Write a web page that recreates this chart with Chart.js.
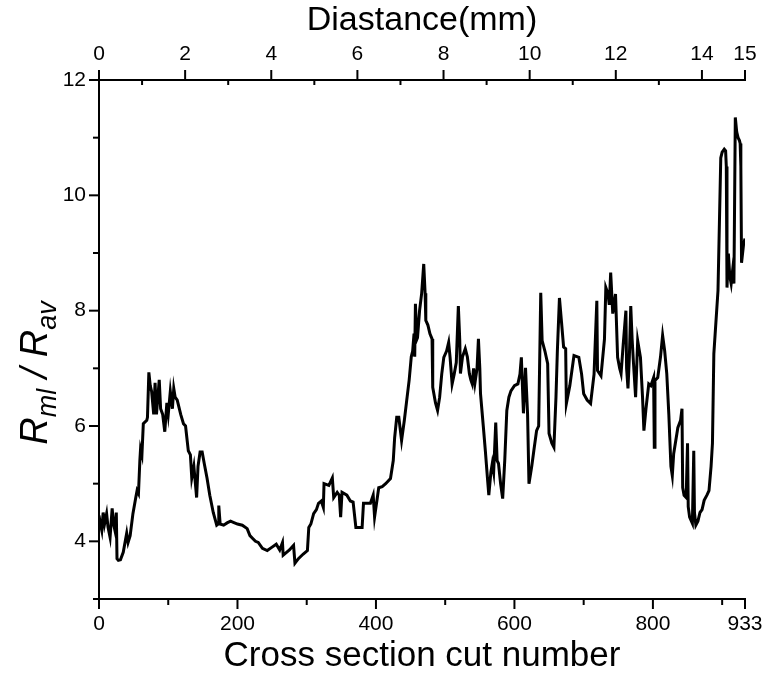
<!DOCTYPE html>
<html>
<head>
<meta charset="utf-8">
<script src="https://cdn.jsdelivr.net/npm/chart.js@4/dist/chart.umd.min.js"></script>
<style>
  html, body { margin: 0; padding: 0; background: #fff; }
  #wrap { width: 768px; height: 677px; }
</style>
</head>
<body>
<div id="wrap"><canvas id="chart" width="768" height="677"></canvas></div>
<script>
// cut number along the sample
const cutNumber = [
  0, 2, 4, 6, 8, 11, 13, 16, 19, 21, 23, 25, 26, 28, 31, 35, 40, 42, 45, 49,
  53, 55, 57, 59, 60, 62, 64, 69, 70, 72, 74, 76, 79, 81, 83, 85, 87, 89, 92, 95,
  98, 100, 103, 106, 108, 110, 113, 118, 122, 125, 129, 132, 134, 137, 141, 143, 146, 149, 152, 156,
  160, 165, 170, 172, 173, 175, 180, 185, 190, 194, 200, 207, 214, 218, 222, 226, 230, 236, 243, 250,
  256, 261, 265, 266, 270, 275, 281, 283, 288, 295, 301, 303, 306, 310, 314, 317, 321, 324, 325, 332,
  337, 339, 344, 347, 349, 351, 358, 363, 367, 371, 380, 382, 392, 396, 398, 404, 409, 414, 421, 425,
  427, 430, 433, 437, 441, 444, 448, 451, 453, 455, 456, 457, 459, 460, 463, 466, 469, 471, 472, 475,
  478, 481, 482, 486, 489, 492, 495, 498, 502, 505, 507, 510, 513, 516, 519, 521, 522, 525, 529, 532,
  535, 537, 539, 541, 543, 546, 548, 550, 551, 555, 558, 561, 563, 566, 568, 570, 573, 575, 577, 580,
  583, 586, 589, 592, 595, 600, 605, 608, 610, 613, 616, 619, 621, 625, 628, 632, 635, 638, 640, 644,
  648, 650, 654, 657, 660, 662, 665, 668, 671, 674, 675, 680, 686, 693, 697, 700, 705, 710, 715, 719,
  720, 725, 730, 732, 735, 737, 739, 742, 746, 749, 752, 754, 757, 761, 762, 764, 766, 768, 770, 772,
  775, 778, 782, 785, 787, 790, 794, 797, 801, 802, 803, 807, 811, 814, 817, 820, 823, 826, 828, 830,
  836, 840, 842, 843, 845, 848, 850, 851, 853, 857, 859, 860, 862, 865, 868, 871, 874, 878, 881, 884,
  886, 888, 891, 894, 896, 898, 900, 903, 905, 906, 907, 909, 911, 913, 915, 917, 919, 921, 923, 925,
  926, 927, 928, 931, 933
]
// R_ml / R_av ratio
const ratio = [
  4.45, 4.3, 4.19, 4.5, 4.3, 4.48, 4.25, 4.07, 4.57, 4.3, 4.19, 4.5, 3.7, 3.67, 3.68, 3.81, 4.14, 3.98, 4.1, 4.48,
  4.75, 4.88, 4.83, 5.4, 5.6, 5.5, 6.04, 6.1, 6.15, 6.93, 6.7, 6.6, 6.2, 6.75, 6.2, 6.5, 6.8, 6.3, 6.2, 5.9,
  6.4, 6.2, 6.6, 6.3, 6.65, 6.5, 6.45, 6.2, 6.04, 6.0, 5.57, 5.5, 5.1, 5.3, 4.76, 5.3, 5.55, 5.55, 5.35, 5.1,
  4.8, 4.5, 4.28, 4.3, 4.62, 4.3, 4.28, 4.32, 4.35, 4.33, 4.3, 4.28, 4.22, 4.1, 4.05, 4.0, 3.98, 3.88, 3.84, 3.9,
  3.95, 3.85, 3.98, 3.76, 3.8, 3.85, 3.93, 3.62, 3.7, 3.78, 3.84, 4.24, 4.3, 4.48, 4.55, 4.66, 4.7, 4.59, 5.0, 4.97,
  5.1, 4.76, 4.85, 4.8, 4.42, 4.85, 4.8, 4.7, 4.68, 4.24, 4.24, 4.66, 4.66, 4.8, 4.42, 4.93, 4.95, 5.0, 5.09, 5.4,
  5.8, 6.15, 6.15, 5.75, 6.1, 6.4, 6.8, 7.2, 7.3, 7.6, 7.2, 8.12, 7.5, 7.53, 8.0, 8.3, 8.81, 8.3, 7.83, 7.75,
  7.6, 7.51, 6.67, 6.4, 6.27, 6.5, 6.9, 7.19, 7.3, 7.45, 7.2, 6.73, 6.9, 7.1, 8.08, 7.5, 6.91, 7.2, 7.34, 7.2,
  6.9, 6.8, 6.73, 7.0, 6.75, 7.0, 7.51, 7.0, 6.56, 6.0, 5.57, 5.1, 4.8, 5.2, 5.35, 5.2, 6.06, 5.4, 5.35, 5.0,
  4.74, 5.4, 6.27, 6.5, 6.61, 6.7, 6.73, 6.9, 7.19, 6.22, 7.01, 6.2, 5.0, 5.3, 5.57, 5.92, 6.0, 8.31, 7.48, 7.3,
  7.08, 5.87, 5.7, 5.63, 6.5, 7.3, 8.22, 7.8, 7.37, 7.34, 6.39, 6.7, 7.22, 7.19, 6.9, 6.56, 6.45, 6.39, 6.9, 8.17,
  6.96, 6.87, 7.5, 8.4, 8.3, 8.1, 8.66, 7.95, 8.29, 7.19, 7.0, 6.91, 7.4, 8.0, 7.0, 6.65, 7.2, 8.08, 7.5, 7.08,
  6.5, 7.48, 7.19, 6.5, 5.92, 6.3, 6.73, 6.7, 6.84, 5.63, 6.79, 6.84, 7.2, 7.57, 7.3, 6.91, 6.2, 5.3, 5.14, 5.52,
  5.97, 6.1, 6.3, 4.93, 4.8, 4.76, 5.7, 4.6, 4.42, 4.31, 5.57, 4.5, 4.28, 4.35, 4.5, 4.55, 4.71, 4.8, 4.88, 5.3,
  5.7, 7.25, 7.8, 8.35, 9.5, 10.65, 10.75, 10.8, 10.77, 10.5, 8.4, 8.99, 8.6, 8.47, 8.69, 8.47, 11.35, 11.1, 11.0, 10.95,
  10.9, 10.5, 8.83, 9.16, 9.25
]

const cutTicks = [0, 100, 200, 300, 400, 500, 600, 700, 800, 900, 933]
const cutLabels = [0, 200, 400, 600, 800, 933]
const mmTicks = [0, 1, 2, 3, 4, 5, 6, 7, 8, 9, 10, 11, 12, 13, 14, 15]
const mmLabels = [0, 2, 4, 6, 8, 10, 12, 14, 15]
const ratioTicks = [3, 4, 5, 6, 7, 8, 9, 10, 11, 12]
const ratioLabels = [4, 6, 8, 10, 12]

const FONT = "'Liberation Sans', Arial, sans-serif"

const points = cutNumber.map((c, i) => ({x: c, y: ratio[i]}))

function setTicks(list){
    return scale => { scale.ticks = list.map(v => ({value: v})) }
}

// draws the tick marks like the original (major out, some minor in)
const tickMarks = {
    id: 'tickMarks',
    afterDraw(chart){
        const ctx = chart.ctx
        const {x, x2, y} = chart.scales
        ctx.save()
        ctx.strokeStyle = '#000'
        ctx.lineWidth = 2
        const line = (a, b, c, d) => { ctx.beginPath(); ctx.moveTo(a, b); ctx.lineTo(c, d); ctx.stroke() }

        cutTicks.forEach(v => {
            const px = x.getPixelForValue(v)
            line(px, x.top, px, x.top + (cutLabels.includes(v) ? 10 : 6))
        })
        mmTicks.forEach(v => {
            const px = x2.getPixelForValue(v)
            if(mmLabels.includes(v)) line(px, x2.bottom, px, x2.bottom - 10)
            else line(px, x2.bottom, px, x2.bottom + 5)
        })
        ratioTicks.forEach(v => {
            const py = y.getPixelForValue(v)
            line(y.right, py, y.right - (ratioLabels.includes(v) ? 10 : 6), py)
        })
        ctx.restore()
    }
}

// y title with subscripts: R_ml / R_av
const yTitle = {
    id: 'yTitle',
    afterDraw(chart){
        const ctx = chart.ctx
        const parts = [
            {t: 'R', size: 38, dy: 0},
            {t: 'ml', size: 27, dy: 9},
            {t: ' / ', size: 38, dy: 0},
            {t: 'R', size: 38, dy: 0},
            {t: 'av', size: 27, dy: 9}
        ]
        ctx.save()
        ctx.fillStyle = '#000'
        ctx.textBaseline = 'alphabetic'
        let total = 0
        parts.forEach(p => {
            ctx.font = 'italic ' + p.size + 'px ' + FONT
            p.w = ctx.measureText(p.t).width
            total += p.w
        })
        ctx.translate(47, 373)
        ctx.rotate(-Math.PI / 2)
        let cx = -total / 2
        parts.forEach(p => {
            ctx.font = 'italic ' + p.size + 'px ' + FONT
            ctx.fillText(p.t, cx, p.dy)
            cx += p.w
        })
        ctx.restore()
    }
}

const axisGrid = {display: true, drawOnChartArea: false, drawTicks: true, tickLength: 10, tickColor: 'rgba(0,0,0,0)'}
const axisBorder = {display: true, color: '#000', width: 2}
const tickFont = {family: FONT, size: 21}

new Chart(document.getElementById('chart'), {
    type: 'line',
    data: {
        datasets: [{
            data: points,
            borderColor: '#000',
            borderWidth: 3,
            pointRadius: 0,
            tension: 0,
            fill: false
        }]
    },
    options: {
        responsive: false,
        devicePixelRatio: 1,
        animation: false,
        layout: {padding: {right: 23, left: 0, top: 0, bottom: 0}},
        plugins: {legend: {display: false}, tooltip: {enabled: false}},
        scales: {
            x: {
                type: 'linear', position: 'bottom', min: 0, max: 933,
                afterBuildTicks: setTicks(cutTicks),
                afterFit: s => { s.height = 78 },
                grid: axisGrid, border: axisBorder,
                ticks: {
                    color: '#000', font: tickFont, padding: 3, maxRotation: 0, autoSkip: false,
                    callback: v => cutLabels.includes(v) ? String(v) : ''
                },
                title: {display: true, text: 'Cross section cut number', color: '#000',
                        font: {family: FONT, size: 35}, padding: {top: 0, bottom: 0}}
            },
            x2: {
                type: 'linear', position: 'top', min: 0, max: 15,
                afterBuildTicks: setTicks(mmTicks),
                afterFit: s => { s.height = 80 },
                grid: axisGrid, border: axisBorder,
                ticks: {
                    color: '#000', font: tickFont, padding: 3, maxRotation: 0, autoSkip: false,
                    callback: v => mmLabels.includes(v) ? String(v) : ''
                },
                title: {display: true, text: 'Diastance(mm)', color: '#000',
                        font: {family: FONT, size: 34}, padding: {top: 0, bottom: 0}}
            },
            y: {
                type: 'linear', position: 'left', min: 3, max: 12,
                afterBuildTicks: setTicks(ratioTicks),
                afterFit: s => { s.width = 99 },
                grid: axisGrid, border: axisBorder,
                ticks: {
                    color: '#000', font: tickFont, padding: 3, autoSkip: false,
                    callback: v => ratioLabels.includes(v) ? String(v) : ''
                }
            }
        }
    },
    plugins: [tickMarks, yTitle]
})
</script>
</body>
</html>
